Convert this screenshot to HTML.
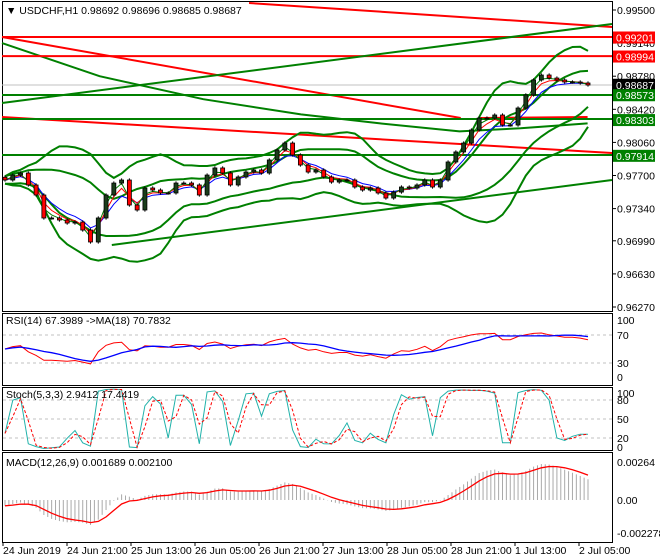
<!DOCTYPE html>
<html><head><meta charset="utf-8"><style>
html,body{margin:0;padding:0;background:#fff;}
svg{display:block;font-family:"Liberation Sans",sans-serif;}
</style></head><body>
<svg id="c" width="660" height="560" viewBox="0 0 660 560" xmlns="http://www.w3.org/2000/svg"></svg>
<script>
// ---- data ----
const closes=[0.97651,0.97705,0.97727,0.97597,0.97488,0.97238,0.97238,0.97216,0.97183,0.97194,
0.97107,0.96977,0.97238,0.97488,0.97618,0.97651,0.97379,0.97325,0.97564,0.97542,
0.9751,0.9751,0.97618,0.97618,0.97597,0.97488,0.97705,0.97782,0.97727,0.97597,
0.97684,0.97738,0.9776,0.97727,0.97869,0.97977,0.98053,0.97923,0.97814,0.97738,
0.9776,0.97684,0.97629,0.97651,0.97651,0.97575,0.97542,0.97564,0.9751,0.97455,
0.9752,0.97575,0.97564,0.97597,0.97651,0.97575,0.97651,0.97847,0.97956,0.98053,
0.98195,0.98325,0.98325,0.98358,0.98249,0.98249,0.98434,0.98576,0.98739,0.98793,
0.9876,0.98739,0.98717,0.98717,0.98706,0.98684];
const priceTicks=[0.99500,0.99140,0.98780,0.98420,0.98060,0.97700,0.97340,0.96990,0.96630,0.96270];
const priceTickLabels=["0.99500","0.99140","0.98780","0.98420","0.98060","0.97700","0.97340","0.96990","0.96630","0.96270"];
const timeLabels=["24 Jun 2019","24 Jun 21:00","25 Jun 13:00","26 Jun 05:00","26 Jun 21:00","27 Jun 13:00","28 Jun 05:00","28 Jun 21:00","1 Jul 13:00","2 Jul 05:00"];
// trend lines: [fracX1, price1, fracX2, price2]
const redLines=[[0.405,0.99576,1.0,0.99315],[0,0.99206,1,0.99206],[0,0.98999,1,0.98999],[0,0.99206,0.752,0.98325],[0.784,0.98325,0.96,0.98336],[0,0.98336,1,0.97945]];
const greenLines=[[0,0.98489,1,0.99348],[0,0.98576,1,0.98576],[0,0.98315,1,0.98315],[0,0.97923,1,0.97923],[0.18,0.96944,1,0.97651]];
const greenCurve=[0.99140,0.98780,0.98530,0.98365,0.98267,0.98180,0.98213,0.98267];
const greenCurveX=[0,0.16,0.33,0.49,0.62,0.75,0.85,0.96];
const axisLabels=[["0.99201","#ff0000",0.99201],["0.98994","#ff0000",0.98994],["0.98687","#000000",0.98687],["0.98573","#008000",0.98573],["0.98303","#008000",0.98303],["0.97914","#008000",0.97914]];

// ---- helpers ----
const svg=document.getElementById('c');
const NS="http://www.w3.org/2000/svg";
function el(tag,attrs,parent){const e=document.createElementNS(NS,tag);for(const k in attrs)e.setAttribute(k,attrs[k]);(parent||svg).appendChild(e);return e;}
const PL=2,PR=612,N=closes.length;
const xi=i=>5+i*(583/(N-1));
const xf=f=>PL+f*(PR-PL);
const yP=p=>10+(0.995-p)*9195;
const yRSI=v=>384-v*0.7;
const ySt=v=>450.7-v*0.633;
const yM=v=>500-v*14394;
function ema(a,n){const k=2/(n+1);const o=[];a.forEach((v,i)=>o.push(i?v*k+o[i-1]*(1-k):v));return o;}
function sma(a,n){return a.map((v,i)=>{const s=a.slice(Math.max(0,i-n+1),i+1);return s.reduce((x,y)=>x+y,0)/s.length;});}
function poly(vals,xs,yf,attrs,name){const pts=vals.map((v,i)=>xs(i).toFixed(1)+","+yf(v).toFixed(1)).join(" ");const p=el('polyline',Object.assign({points:pts,fill:'none'},attrs));return p;}

const opens=closes.map((c,i)=>i?closes[i-1]:c+0.0003);
const highs=closes.map((c,i)=>Math.max(c,opens[i])+0.00018);
const lows=closes.map((c,i)=>Math.min(c,opens[i])-0.00018);

// ---- panels ----
function panel(y1,y2,name){const r=el('rect',{x:2.5,y:y1+.5,width:PR-2,height:y2-y1,fill:'#fff',stroke:'#000','stroke-width':1});}
panel(1,311,'main-price-panel');panel(313,385,'rsi-panel');panel(387,450,'stoch-panel');panel(452,542,'macd-panel');

priceTicks.forEach((p,i)=>{const y=yP(p);el('line',{x1:PR,x2:PR+4,y1:y,y2:y,stroke:'#000'});const t=el('text',{x:617,y:y+4,'font-size':10.5,fill:'#000'});t.textContent=priceTickLabels[i];});

el('line',{x1:PL,x2:PR,y1:yP(closes[N-1]),y2:yP(closes[N-1]),stroke:'#c0c0c0'});

poly(greenCurve,i=>xf(greenCurveX[i]),yP,{stroke:'#008000','stroke-width':2},'long-band-curve');
redLines.forEach(l=>{const e=el('line',{x1:xf(l[0]),y1:yP(l[1]),x2:xf(l[2]),y2:yP(l[3]),stroke:'#ff0000','stroke-width':2});});
greenLines.forEach(l=>{const e=el('line',{x1:xf(l[0]),y1:yP(l[1]),x2:xf(l[2]),y2:yP(l[3]),stroke:'#008000','stroke-width':2});});

function bands(n,d){const mid=sma(closes,n);const up=[],lo=[];closes.forEach((c,i)=>{const s=closes.slice(Math.max(0,i-n+1),i+1);const m=mid[i];const sd=Math.sqrt(s.reduce((a,v)=>a+(v-m)*(v-m),0)/s.length);up.push(m+d*sd+0.0004);lo.push(m-d*sd-0.0004);});return [sma(up,3),sma(lo,3)];}
const [bu1,bl1]=bands(10,1.0),[bu2,bl2]=bands(10,2.4);
poly(bu2,xi,yP,{stroke:'#008000','stroke-width':2},'bollinger-wide-upper');
poly(bl2,xi,yP,{stroke:'#008000','stroke-width':2},'bollinger-wide-lower');
poly(bu1,xi,yP,{stroke:'#008000','stroke-width':2},'bollinger-narrow-upper');
poly(bl1,xi,yP,{stroke:'#008000','stroke-width':2},'bollinger-narrow-lower');
poly(ema(closes,5),xi,yP,{stroke:'#0000ff','stroke-width':1},'ma-blue');
poly(ema(closes,3),xi,yP,{stroke:'#ff0000','stroke-width':1},'ma-red');
poly(ema(closes,2),xi,yP,{stroke:'#008000','stroke-width':1},'ma-green');

closes.forEach((c,i)=>{const x=xi(i),o=opens[i];
 const w=el('line',{x1:x,x2:x,y1:yP(highs[i]),y2:yP(lows[i]),stroke:'#000'});
 
 
 const top=yP(Math.max(o,c)),h=Math.max(1,yP(Math.min(o,c))-top);
 const b=el('rect',{x:x-2,y:top,width:4,height:h,fill:c>=o?'#1a3d1a':'#ff0000',stroke:'#000','stroke-width':0.8});
 
 });

axisLabels.forEach(a=>{const y=yP(a[2]);el('rect',{x:613,y:y-6,width:42,height:12,fill:a[1]});const t=el('text',{x:616,y:y+4,'font-size':10.5,fill:'#fff'});t.textContent=a[0];});

const hdr=el('text',{x:6,y:14,'font-size':10.5,fill:'#000'});hdr.textContent="▼ USDCHF,H1  0.98692 0.98696 0.98685 0.98687";

// ---- RSI ----
const rsi=[];let ag=0.0003,al=0.0003;const RP=8;
closes.forEach((c,i)=>{if(!i){rsi.push(50);return;}const d=c-closes[i-1];const g=Math.max(d,0),l=Math.max(-d,0);ag=(ag*(RP-1)+g)/RP;al=(al*(RP-1)+l)/RP;rsi.push(al===0?100:100-100/(1+ag/al));});
const rsiS=rsi.map(v=>50+(v-50)*0.6);
[70,30].forEach(v=>el('line',{x1:3,x2:PR,y1:yRSI(v),y2:yRSI(v),stroke:'#c0c0c0','stroke-dasharray':'3,3'}));
[[100,320],[70,null],[30,null],[0,377]].forEach(a=>{const t=el('text',{x:617,y:(a[1]||yRSI(a[0]))+4,'font-size':10.5});t.textContent=a[0];});
poly(rsiS,xi,yRSI,{stroke:'#ff0000','stroke-width':1},'rsi-line');
poly(sma(rsiS,7),xi,yRSI,{stroke:'#0000ff','stroke-width':1.3},'rsi-ma-line');
let t=el('text',{x:6,y:324,'font-size':10.5});t.textContent="RSI(14) 67.3989  ->MA(18) 70.7832";

// ---- Stochastic ----
const kRaw=closes.map((c,i)=>{const hs=highs.slice(Math.max(0,i-2),i+1),ls=lows.slice(Math.max(0,i-2),i+1);const H=Math.max(...hs),L=Math.min(...ls);return H===L?50:(c-L)/(H-L)*100;});
const kS=kRaw,dS=sma(kS,2);
[80,50,20].forEach(v=>el('line',{x1:3,x2:PR,y1:ySt(v),y2:ySt(v),stroke:'#c0c0c0','stroke-dasharray':'3,3'}));
[[100,393],[80,null],[50,null],[20,null],[0,447]].forEach(a=>{const tt=el('text',{x:617,y:(a[1]||ySt(a[0]))+4,'font-size':10.5});tt.textContent=a[0];});
poly(kS,xi,ySt,{stroke:'#20b2aa','stroke-width':1},'stoch-main-line');
poly(dS,xi,ySt,{stroke:'#ff0000','stroke-width':1,'stroke-dasharray':'3,2'},'stoch-signal-line');
t=el('text',{x:6,y:398,'font-size':10.5});t.textContent="Stoch(5,3,3) 2.9412 17.4419";

// ---- MACD ----
const e1=ema(closes,6),e2=ema(closes,14);const macd=e1.map((v,i)=>v-e2[i]-0.0004*Math.max(0,1-i/14));const sig=ema(macd,4);
for(let j=0;j<(N-1)*2+1;j++){const i0=Math.floor(j/2),f=(j%2)/2;const v=f&&i0+1<N?macd[i0]*(1-f)+macd[i0+1]*f:macd[i0];
 const x=5+j*(583/(N-1))/2;
 const b=el('line',{x1:x,x2:x,y1:500,y2:yM(v),stroke:'#a9a9a9','stroke-width':1});
 
 }
poly(sig,xi,yM,{stroke:'#ff0000','stroke-width':1.3},'macd-signal-line');
[["0.00264",0.00264],["0.00",0],["-0.002278",-0.002278]].forEach(a=>{const tt=el('text',{x:617,y:yM(a[1])+4,'font-size':10.5});tt.textContent=a[0];});
t=el('text',{x:6,y:466,'font-size':10.5});t.textContent="MACD(12,26,9) 0.001689 0.002100";

timeLabels.forEach((s,i)=>{const x=3+i*64;el('line',{x1:x,x2:x,y1:542,y2:546,stroke:'#000'});const tt=el('text',{x:x,y:554,'font-size':10.5});tt.textContent=s;});
</script>
</body></html>
